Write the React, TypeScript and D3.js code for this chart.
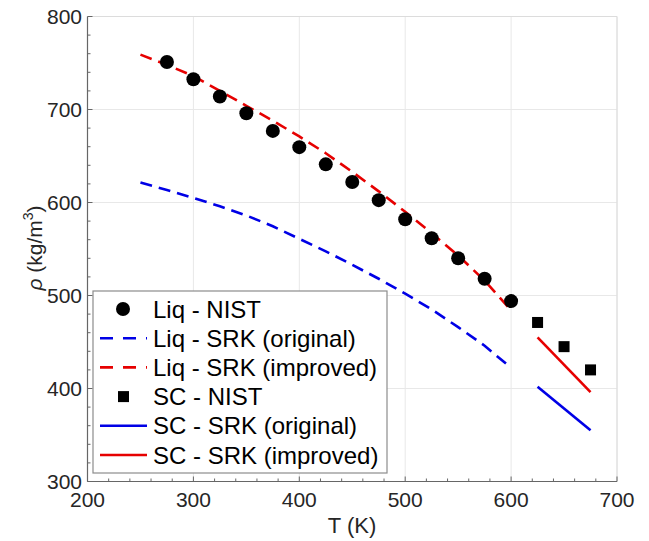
import React from "react";
import * as d3 from "d3";

const liqT = [275, 300, 325, 350, 375, 400, 425, 450, 475, 500, 525, 550, 575, 600];
const liqNist = [751, 732.5, 714, 696, 677, 659.5, 641, 622, 602.5, 582, 561.5, 540, 518, 494];

const scT = [625, 650, 675];
const scNist = [471, 445, 420];

const srkT = [250, 275, 300, 325, 350, 375, 400, 425, 450, 475, 500, 525, 550, 575, 597];
const liqSrkOrig = [621.5, 613.5, 605, 596, 586, 574.5, 561, 547.5, 533, 518, 502, 485, 466, 446, 425];
const liqSrkImp = [759, 748, 736, 720, 704, 688, 671, 653, 633, 612, 590, 567, 543, 516, 488];

const scLineT = [625, 675];
const scSrkOrig = [402, 355];
const scSrkImp = [455, 396];

const xTicks = [200, 300, 400, 500, 600, 700];
const yTicks = [300, 400, 500, 600, 700, 800];

const legendLabels = [
  "Liq - NIST",
  "Liq - SRK (original)",
  "Liq - SRK (improved)",
  "SC - NIST",
  "SC - SRK (original)",
  "SC - SRK (improved)",
];

const BLUE = "#0000e6";
const RED = "#e60000";
const FONT = "'Liberation Sans', Arial, Helvetica, sans-serif";

export default function App() {
  const W = 649, H = 541;
  const x = d3.scaleLinear().domain([200, 700]).range([87.5, 617]);
  const y = d3.scaleLinear().domain([300, 800]).range([481.5, 16.5]);
  const line = d3.line<[number, number]>().x(d => x(d[0])).y(d => y(d[1]));
  const zip = (a: number[], b: number[]) => a.map((v, i) => [v, b[i]] as [number, number]);

  const minorX = d3.range(200, 701, 20).filter(v => v % 100 !== 0);
  const minorY = d3.range(300, 801, 20).filter(v => v % 100 !== 0);

  const [x0, x1] = x.range();
  const [y0, y1] = y.range();

  const lg = { x: 93, y: 291, w: 294, h: 182 };
  const rowY = (i: number) => 309 + i * 29.2;

  return (
    <svg width={W} height={H} style={{ position: "absolute", left: 0, top: 0, background: "#fff" }} fontFamily={FONT}>
      <rect x={0} y={0} width={W} height={H} fill="#fff" />
      {/* grid */}
      {xTicks.map(t => (
        <line key={"gx" + t} x1={x(t)} x2={x(t)} y1={y0} y2={y1} stroke="#e8e8e8" strokeWidth={1} />
      ))}
      {yTicks.map(t => (
        <line key={"gy" + t} x1={x0} x2={x1} y1={y(t)} y2={y(t)} stroke="#e8e8e8" strokeWidth={1} />
      ))}
      {/* box top/right */}
      <line x1={x0} x2={x1} y1={y1} y2={y1} stroke="#dcdcdc" strokeWidth={1} />
      <line x1={x1} x2={x1} y1={y0} y2={y1} stroke="#dcdcdc" strokeWidth={1} />

      {/* lines */}
      <path d={line(zip(srkT, liqSrkOrig)) || ""} fill="none" stroke={BLUE} strokeWidth={2.6} strokeDasharray="12,7" />
      <path d={line(zip(srkT, liqSrkImp)) || ""} fill="none" stroke={RED} strokeWidth={2.6} strokeDasharray="12,7" />
      <path d={line(zip(scLineT, scSrkOrig)) || ""} fill="none" stroke={BLUE} strokeWidth={2.6} />
      <path d={line(zip(scLineT, scSrkImp)) || ""} fill="none" stroke={RED} strokeWidth={2.6} />

      {/* markers */}
      {liqT.map((t, i) => (
        <circle key={"c" + t} cx={x(t)} cy={y(liqNist[i])} r={7} fill="#000" />
      ))}
      {scT.map((t, i) => (
        <rect key={"s" + t} x={x(t) - 5.5} y={y(scNist[i]) - 5.5} width={11} height={11} fill="#000" />
      ))}

      {/* axes */}
      <line x1={x0} x2={x0} y1={y0} y2={y1} stroke="#666" strokeWidth={1.2} />
      <line x1={x0} x2={x1} y1={y0} y2={y0} stroke="#666" strokeWidth={1.2} />
      {xTicks.map(t => (
        <line key={"tx" + t} x1={x(t)} x2={x(t)} y1={y0} y2={y0 - 5} stroke="#666" />
      ))}
      {minorX.map(t => (
        <line key={"mx" + t} x1={x(t)} x2={x(t)} y1={y0} y2={y0 - 3} stroke="#666" />
      ))}
      {yTicks.map(t => (
        <line key={"ty" + t} x1={x0} x2={x0 + 5} y1={y(t)} y2={y(t)} stroke="#666" />
      ))}
      {minorY.map(t => (
        <line key={"my" + t} x1={x0} x2={x0 + 3} y1={y(t)} y2={y(t)} stroke="#666" />
      ))}

      {/* tick labels */}
      {xTicks.map(t => (
        <text key={"lx" + t} x={x(t)} y={507} textAnchor="middle" fontSize={21} fill="#262626">{t}</text>
      ))}
      {yTicks.map(t => (
        <text key={"ly" + t} x={82} y={y(t) + 7.5} textAnchor="end" fontSize={21} fill="#262626">{t}</text>
      ))}

      {/* axis labels */}
      <text x={352} y={533} textAnchor="middle" fontSize={22} fill="#262626">T (K)</text>
      <text transform="translate(42,248) rotate(-90)" textAnchor="middle" fontSize={21} fill="#262626">
        <tspan fontStyle="italic">ρ</tspan> (kg/m<tspan dy={-9} fontSize={14}>3</tspan><tspan dy={9}>)</tspan>
      </text>

      {/* legend */}
      <rect x={lg.x} y={lg.y} width={lg.w} height={lg.h} fill="#fff" stroke="#8c8c8c" strokeWidth={1.2} />
      {legendLabels.map((lab, i) => {
        const cy = rowY(i);
        let sym: React.ReactNode = null;
        if (i === 0) sym = <circle cx={123} cy={cy} r={7} fill="#000" />;
        else if (i === 3) sym = <rect x={118} y={cy - 5.5} width={11} height={11} fill="#000" />;
        else {
          const col = i === 1 || i === 4 ? BLUE : RED;
          const dashed = i === 1 || i === 2;
          sym = (
            <line x1={100} x2={147} y1={cy} y2={cy} stroke={col} strokeWidth={2.6}
              strokeDasharray={dashed ? "13,10" : undefined} />
          );
        }
        return (
          <g key={lab}>
            {sym}
            <text x={153} y={cy + 8.5} fontSize={24} fill="#000">{lab}</text>
          </g>
        );
      })}
    </svg>
  );
}
